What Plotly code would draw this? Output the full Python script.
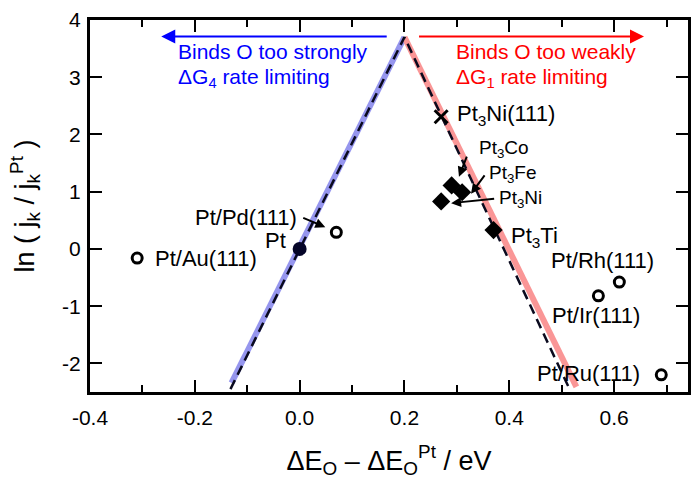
import plotly.graph_objects as go

# ---- data ----
skin_names = ["Pt/Au(111)", "Pt/Pd(111)", "Pt/Ir(111)", "Pt/Rh(111)", "Pt/Ru(111)"]
skin_x = [-0.31, 0.07, 0.57, 0.61, 0.69]
skin_y = [-0.16, 0.29, -0.82, -0.58, -2.20]

alloy_names = ["Pt<sub>3</sub>Co", "Pt<sub>3</sub>Fe", "Pt<sub>3</sub>Ni", "Pt<sub>3</sub>Ti"]
alloy_x = [0.29, 0.31, 0.27, 0.37]
alloy_y = [1.11, 0.99, 0.83, 0.33]

pt_x = [0.0]
pt_y = [0.0]

pt3ni111_x = [0.27]
pt3ni111_y = [2.31]

volcano_x = [-0.132, 0.2, 0.515]
volcano_y = [-2.45, 3.7, -2.45]

blue_x = [-0.13, 0.2]
blue_y = [-2.34, 3.7]
red_x = [0.2, 0.528]
red_y = [3.7, -2.41]

FONT = "Liberation Sans, Arial, Helvetica, sans-serif"

fig = go.Figure()

fig.add_trace(go.Scatter(x=blue_x, y=blue_y, mode="lines",
                         line=dict(color="rgb(150,150,238)", width=6),
                         showlegend=False, hoverinfo="skip"))
fig.add_trace(go.Scatter(x=red_x, y=red_y, mode="lines",
                         line=dict(color="rgb(250,150,150)", width=6),
                         showlegend=False, hoverinfo="skip"))
fig.add_trace(go.Scatter(x=volcano_x, y=volcano_y, mode="lines",
                         line=dict(color="rgb(10,10,30)", width=2.5, dash="10px,6px"),
                         showlegend=False, hoverinfo="skip"))

fig.add_trace(go.Scatter(x=skin_x, y=skin_y, mode="markers",
                         marker=dict(symbol="circle-open", size=10, color="black",
                                     line=dict(width=3, color="black")),
                         showlegend=False))
fig.add_trace(go.Scatter(x=alloy_x, y=alloy_y, mode="markers",
                         marker=dict(symbol="diamond", size=14, color="black"),
                         showlegend=False))
fig.add_trace(go.Scatter(x=pt_x, y=pt_y, mode="markers",
                         marker=dict(symbol="circle", size=14, color="rgb(5,5,40)"),
                         showlegend=False))
fig.add_trace(go.Scatter(x=pt3ni111_x, y=pt3ni111_y, mode="markers",
                         marker=dict(symbol="x-thin", size=13, color="black",
                                     line=dict(width=3, color="black")),
                         showlegend=False))

ann = []
def label(text, x, y, xanchor="left", color="black", size=22):
    ann.append(dict(x=x, y=y, xref="x", yref="y", text=text, showarrow=False,
                    xanchor=xanchor, yanchor="middle",
                    font=dict(family=FONT, size=size, color=color)))

def arrow(x0, y0, x1, y1, color="black", width=2, head=2, hsize=1.0):
    ann.append(dict(x=x1, y=y1, ax=x0, ay=y0, xref="x", yref="y", axref="x", ayref="y",
                    text="", showarrow=True, arrowhead=head, arrowsize=hsize,
                    arrowwidth=width, arrowcolor=color))

# region arrows and texts
arrow(0.169, 3.71, -0.264, 3.71, color="blue", width=2, hsize=1.4)
arrow(0.225, 3.71, 0.657, 3.71, color="red", width=2, hsize=1.4)
label("Binds O too strongly", -0.235, 3.45, color="blue", size=21)
label("ΔG<sub>4</sub> rate limiting", -0.235, 2.99, color="blue", size=21)
label("Binds O too weakly", 0.294, 3.45, color="red", size=21)
label("ΔG<sub>1</sub> rate limiting", 0.294, 2.99, color="red", size=21)

# point labels
label("Pt/Au(111)", -0.280, -0.16)
label("Pt/Pd(111)", -0.002, 0.555, xanchor="right")
arrow(0.004, 0.555, 0.049, 0.38)
label("Pt", -0.022, 0.14, xanchor="right")
label("Pt<sub>3</sub>Ni(111)", 0.297, 2.34)
label(alloy_names[0], 0.339, 1.74, size=19)
arrow(0.320, 1.64, 0.304, 1.26)
label(alloy_names[1], 0.358, 1.31, size=19)
arrow(0.355, 1.31, 0.327, 0.965)
label(alloy_names[2], 0.377, 0.87, size=19)
arrow(0.374, 0.88, 0.289, 0.80)
label(alloy_names[3], 0.399, 0.20)
label(skin_names[3], 0.475, -0.20)
label(skin_names[2], 0.477, -1.17)
label(skin_names[4], 0.449, -2.18)

fig.update_layout(
    width=692, height=481,
    margin=dict(l=90, r=1, t=20, b=89),
    paper_bgcolor="white", plot_bgcolor="white",
    font=dict(family=FONT, size=20, color="black"),
    annotations=ann,
    showlegend=False,
)

fig.update_xaxes(
    range=[-0.4, 0.741], showgrid=False, zeroline=False,
    showline=True, linewidth=3, linecolor="black", mirror="allticks",
    ticks="inside", ticklen=12, tickwidth=1.5, tickcolor="black",
    tickvals=[-0.4, -0.2, 0.0, 0.2, 0.4, 0.6],
    ticktext=["-0.4", "-0.2", "0.0", "0.2", "0.4", "0.6"],
    tickfont=dict(size=21), ticklabelstandoff=5,
    minor=dict(tickvals=[-0.3, -0.1, 0.1, 0.3, 0.5, 0.7], ticks="inside",
               ticklen=7, tickwidth=1.5, tickcolor="black"),
    title=dict(text="ΔE<sub>O</sub> – ΔE<sub>O</sub><sup>Pt</sup> / eV",
               font=dict(size=27), standoff=23),
)
fig.update_yaxes(
    range=[-2.5, 4], showgrid=False, zeroline=False,
    showline=True, linewidth=3, linecolor="black", mirror="allticks",
    ticks="inside", ticklen=12, tickwidth=1.5, tickcolor="black",
    tickvals=[-2, -1, 0, 1, 2, 3, 4],
    ticktext=["-2", "-1", "0", "1", "2", "3", "4"],
    tickfont=dict(size=21), ticklabelstandoff=2,
    title=dict(text="ln ( j<sub>k</sub> / j<sub>k</sub><sup>Pt</sup> )",
               font=dict(size=27), standoff=20),
)

fig.write_html("out.html")
